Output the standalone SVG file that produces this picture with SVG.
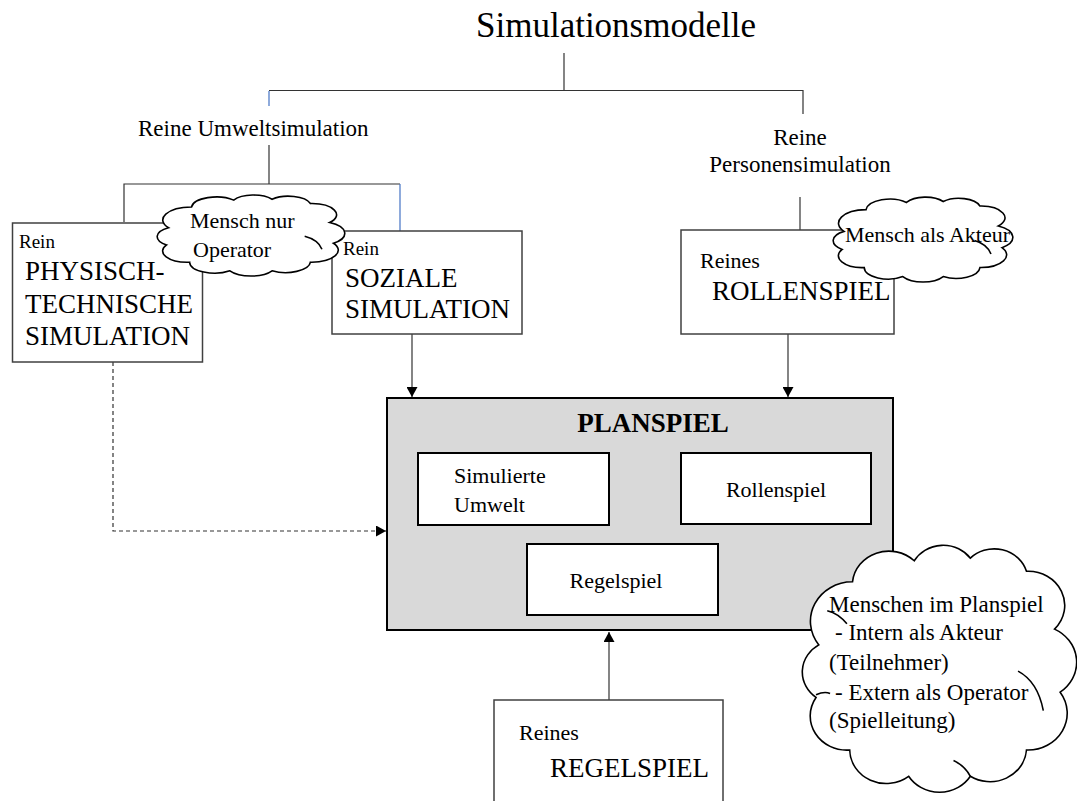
<svg xmlns="http://www.w3.org/2000/svg" xmlns:xlink="http://www.w3.org/1999/xlink" width="1077" height="801" viewBox="0 0 1077 801">
  <style>
    text { font-family: "Liberation Serif", "Times New Roman", serif; fill: #000; }
    .t35 { font-size: 35px; }
    .t23 { font-size: 23px; }
    .t22 { font-size: 22px; }
    .t19 { font-size: 19px; }
    .caps { font-size: 27px; }
    .bold { font-size: 27px; font-weight: bold; }
    .mid { text-anchor: middle; }
    .box { fill: #fff; stroke: #404040; stroke-width: 1.5; }
    .inner { fill: #fff; stroke: #000; stroke-width: 2; }
    .plan { fill: #d9d9d9; stroke: #000; stroke-width: 2; }
    .line { fill: none; stroke: #333; stroke-width: 1.2; }
    .blue { fill: none; stroke: #4472c4; stroke-width: 1.2; }
    .arrow { fill: none; stroke: #333; stroke-width: 1.2; marker-end: url(#arr); }
    .dash { fill: none; stroke: #333; stroke-width: 1.2; stroke-dasharray: 4 3; marker-end: url(#arr); }
    .cloud { fill: #fff; stroke: #000; stroke-width: 1.6; vector-effect: non-scaling-stroke; }
    .cloudin { fill: none; stroke: #000; stroke-width: 1.6; vector-effect: non-scaling-stroke; }
  </style>
  <defs>
    <marker id="arr" viewBox="0 0 10 11" refX="10" refY="5.5" markerWidth="10" markerHeight="11" markerUnits="userSpaceOnUse" orient="auto">
      <path d="M0,0 L10,5.5 L0,11 z" fill="#000"/>
    </marker>
    <!-- cloud outline in a 0..98 x 4..98 unit box -->
    <path id="cloudOutline" class="cloud" d="M6,42 A15,15 0 0 1 18,18 A13,13 0 0 1 40,10 A12,12 0 0 1 60,9 A12,12 0 0 1 80,14 A13,13 0 0 1 90,36 A14,14 0 0 1 92,60 A14,14 0 0 1 80,82 A13,13 0 0 1 60,92 A13,13 0 0 1 38,92 A13,13 0 0 1 17,82 A13,13 0 0 1 5,62 A12,12 0 0 1 6,42 Z"/>
    <g id="cloudShape">
      <use xlink:href="#cloudOutline"/>
      <path class="cloudin" d="M77,52 Q84,56 86,67"/>
    </g>
    <g id="cloudShapeLarge">
      <use xlink:href="#cloudOutline"/>
      <path class="cloudin" d="M9,29 Q13,30 16,34"/>
      <path class="cloudin" d="M5,61 Q8,59.5 10,60.5"/>
      <path class="cloudin" d="M77,52 Q84,56 86,67"/>
      <path class="cloudin" d="M60,92 Q58,88 54,86"/>
    </g>
  </defs>

  <rect width="1077" height="801" fill="#fff"/>

  <!-- hierarchy labels -->
  <g id="title">
    <text class="t35 mid" x="616" y="37">Simulationsmodelle</text>
  </g>
  <g id="umwelt">
    <text class="t23" x="138" y="136">Reine Umweltsimulation</text>
  </g>
  <g id="personen">
    <text class="t23 mid" x="800" y="145">Reine</text>
    <text class="t23 mid" x="800" y="172">Personensimulation</text>
  </g>

  <!-- connectors -->
  <g id="connectors">
    <path class="line" d="M564,53 V90.5"/>
    <path class="line" d="M269,90.5 H803 V114"/>
    <path class="blue" d="M269,91 V106"/>
    <path class="line" d="M269,145 V184"/>
    <path class="line" d="M124,222 V184 H400"/>
    <path class="blue" d="M400,184 V231"/>
    <path class="line" d="M800,197 V230"/>
    <path class="arrow" d="M412,334 V397"/>
    <path class="arrow" d="M788,334 V397"/>
    <path class="dash" d="M113,362 V531 H386"/>
    <path class="arrow" d="M609,700 V632"/>
  </g>

  <g id="physisch">
    <rect class="box" x="12.5" y="223" width="190" height="139"/>
    <text class="t19" x="19" y="248">Rein</text>
    <text class="caps" x="25" y="280">PHYSISCH-</text>
    <text class="caps" x="25" y="313">TECHNISCHE</text>
    <text class="caps" x="25" y="345">SIMULATION</text>
  </g>

  <g id="soziale">
    <rect class="box" x="332" y="231" width="190" height="103"/>
    <text class="t19" x="343" y="255">Rein</text>
    <text class="caps" x="345" y="287">SOZIALE</text>
    <text class="caps" x="345" y="318">SIMULATION</text>
  </g>

  <g id="rollenspiel-rein">
    <rect class="box" x="681" y="230" width="213" height="104"/>
    <text class="t22" x="700" y="268">Reines</text>
    <text class="caps" x="712" y="300">ROLLENSPIEL</text>
  </g>

  <g id="cloud-operator">
    <use xlink:href="#cloudShape" transform="translate(157,191.5) scale(1.918,0.862)"/>
    <text class="t22" x="190" y="228">Mensch nur</text>
    <text class="t22" x="193" y="257">Operator</text>
  </g>

  <g id="cloud-akteur">
    <use xlink:href="#cloudShape" transform="translate(833,193.4) scale(1.837,0.904)"/>
    <text class="t22" x="845" y="242">Mensch als Akteur</text>
  </g>

  <g id="planspiel">
    <rect class="plan" x="387" y="398" width="506" height="232"/>
    <text class="bold mid" x="653" y="432">PLANSPIEL</text>
  </g>

  <g id="simulierte-umwelt">
    <rect class="inner" x="418" y="453" width="191" height="72"/>
    <text class="t22" x="454" y="483">Simulierte</text>
    <text class="t22" x="454" y="512">Umwelt</text>
  </g>

  <g id="rollenspiel">
    <rect class="inner" x="681" y="453" width="190" height="71"/>
    <text class="t22 mid" x="776" y="497">Rollenspiel</text>
  </g>

  <g id="regelspiel">
    <rect class="inner" x="527" y="544" width="191" height="71"/>
    <text class="t22 mid" x="616" y="588">Regelspiel</text>
  </g>

  <g id="regelspiel-rein">
    <rect class="box" x="494" y="700" width="229" height="120"/>
    <text class="t22" x="519" y="740">Reines</text>
    <text class="caps" x="550" y="777">REGELSPIEL</text>
  </g>

  <g id="cloud-menschen">
    <use xlink:href="#cloudShapeLarge" transform="translate(802,534.5) scale(2.806,2.628)"/>
    <text class="t23" x="829" y="612">Menschen im Planspiel</text>
    <text class="t23" x="835" y="640">- Intern als Akteur</text>
    <text class="t23" x="829" y="670">(Teilnehmer)</text>
    <text class="t23" x="835" y="700">- Extern als Operator</text>
    <text class="t23" x="829" y="728">(Spielleitung)</text>
  </g>
</svg>
